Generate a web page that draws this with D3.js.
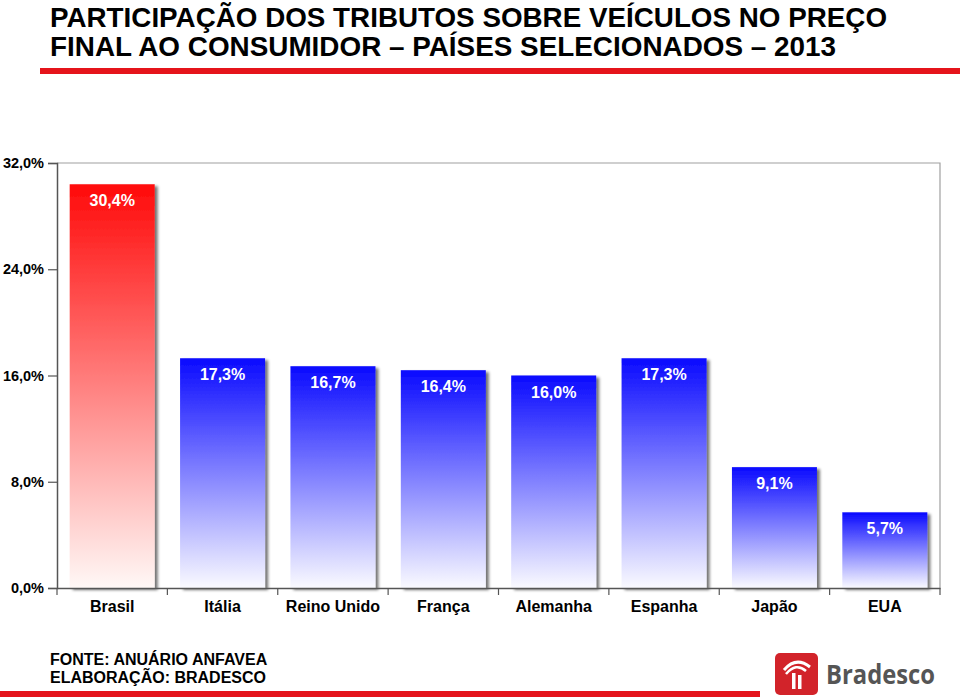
<!DOCTYPE html>
<html><head><meta charset="utf-8">
<script src="https://cdn.jsdelivr.net/npm/d3@7/dist/d3.min.js"></script>
<style>body{margin:0;background:#fff}svg{display:block}</style>
</head><body>
<script>
const categories = ["Brasil","Itália","Reino Unido","França","Alemanha","Espanha","Japão","EUA"];
const values = [30.4,17.3,16.7,16.4,16.0,17.3,9.1,5.7];
const yTicks = [0,8,16,24,32];
const titleLines = ["PARTICIPAÇÃO DOS TRIBUTOS SOBRE VEÍCULOS NO PREÇO","FINAL AO CONSUMIDOR – PAÍSES SELECIONADOS – 2013"];
const footer = ["FONTE: ANUÁRIO ANFAVEA","ELABORAÇÃO: BRADESCO"];

const W=960,H=697;
const svg=d3.select("body").append("svg").attr("width",W).attr("height",H);
const defs=svg.append("defs");
const gr=defs.append("linearGradient").attr("id","gRed").attr("x1",0).attr("y1",0).attr("x2",0).attr("y2",1);
gr.append("stop").attr("offset","0%").attr("stop-color","#ff0a0a");
gr.append("stop").attr("offset","100%").attr("stop-color","#fff8f6");
const gb=defs.append("linearGradient").attr("id","gBlue").attr("x1",0).attr("y1",0).attr("x2",0).attr("y2",1);
gb.append("stop").attr("offset","0%").attr("stop-color","#0a0aff");
gb.append("stop").attr("offset","100%").attr("stop-color","#fafaff");
const f=defs.append("filter").attr("id","sh").attr("x","-10%").attr("y","-10%").attr("width","130%").attr("height","130%");
f.append("feGaussianBlur").attr("in","SourceAlpha").attr("stdDeviation",1.5).attr("result","b");
f.append("feOffset").attr("in","b").attr("dx",3).attr("dy",2).attr("result","o");
f.append("feComponentTransfer").attr("in","o").attr("result","o2").append("feFuncA").attr("type","linear").attr("slope",0.55);
const fm=f.append("feMerge");fm.append("feMergeNode").attr("in","o2");fm.append("feMergeNode").attr("in","SourceGraphic");

// Title
const narrow="'Liberation Sans Narrow','Arial Narrow','Liberation Sans',Arial,sans-serif";
svg.selectAll("text.title").data(titleLines).join("text").attr("class","title")
 .attr("x",50).attr("y",(d,i)=>27+i*29).attr("font-family",narrow).attr("font-weight","bold")
 .attr("font-size",28).attr("fill","#000").attr("textLength",(d,i)=>i==0?837:786).attr("lengthAdjust","spacingAndGlyphs").text(d=>d);
svg.append("rect").attr("x",40).attr("y",68).attr("width",920).attr("height",6).attr("fill","#e5141b");

const m={l:57,r:940,t:163,b:588};
const x=d3.scaleBand().domain(categories).range([m.l,m.r]).paddingInner(0.23).paddingOuter(0.115);
const y=d3.scaleLinear().domain([0,32]).range([m.b,m.t]);

// frame
svg.append("path").attr("d",`M${m.l},${m.t}H${m.r}V${m.b}`).attr("fill","none").attr("stroke","#a0a0a0").attr("stroke-width",1.2);

// bars
svg.selectAll("rect.bar").data(values).join("rect").attr("class","bar")
 .attr("x",(d,i)=>x(categories[i])).attr("width",x.bandwidth())
 .attr("y",d=>y(d)).attr("height",d=>y(0)-y(d))
 .attr("fill",(d,i)=>i==0?"url(#gRed)":"url(#gBlue)").attr("filter","url(#sh)");

svg.selectAll("text.val").data(values).join("text").attr("class","val")
 .attr("x",(d,i)=>x(categories[i])+x.bandwidth()/2).attr("y",d=>y(d)+22)
 .attr("text-anchor","middle").attr("font-family","Liberation Sans,Arial,sans-serif").attr("font-weight","bold")
 .attr("font-size",16).attr("fill","#fff").text(d=>d.toFixed(1).replace(".",",")+"%");

// y axis
const ya=svg.append("g").attr("transform",`translate(${m.l},0)`)
 .call(d3.axisLeft(y).tickValues(yTicks).tickSize(9).tickPadding(4).tickFormat(d=>d.toFixed(1).replace(".",",")+"%"));
ya.select(".domain").attr("stroke","#555").attr("stroke-width",1.5);
ya.selectAll(".tick line").attr("stroke","#555").attr("stroke-width",1.2);
ya.selectAll("text").attr("font-family","Liberation Sans,Arial,sans-serif").attr("font-weight","bold").attr("font-size",14.5).attr("fill","#000");

// x axis
const xa=svg.append("g").attr("transform",`translate(0,${m.b})`).call(d3.axisBottom(x).tickSize(0).tickPadding(13));
xa.select(".domain").attr("stroke","#555").attr("stroke-width",1.5);
xa.selectAll("text").attr("font-family","Liberation Sans,Arial,sans-serif").attr("font-weight","bold").attr("font-size",16).attr("fill","#000");
const step=x.step();
svg.append("g").selectAll("line").data(d3.range(categories.length+1)).join("line")
 .attr("x1",i=>m.l+i*step).attr("x2",i=>m.l+i*step).attr("y1",m.b).attr("y2",m.b+7)
 .attr("stroke","#555").attr("stroke-width",1.2);

// footer
svg.selectAll("text.foot").data(footer).join("text").attr("class","foot")
 .attr("x",50).attr("y",(d,i)=>665+i*18).attr("font-family","Liberation Sans,Arial,sans-serif")
 .attr("font-weight","bold").attr("font-size",16).attr("fill","#000").text(d=>d);
svg.append("rect").attr("x",0).attr("y",691).attr("width",760).attr("height",6).attr("fill","#e5141b");

// logo
const lg=svg.append("g").attr("transform","translate(775,653)");
lg.append("rect").attr("width",43).attr("height",42).attr("rx",5).attr("fill","#d2232a");
lg.append("path").attr("d","M9,17 Q21,3 35,14").attr("fill","none").attr("stroke","#fff").attr("stroke-width",3);
lg.append("path").attr("d","M11,21 Q21,9 31,18").attr("fill","none").attr("stroke","#fff").attr("stroke-width",2.5);
lg.append("rect").attr("x",17).attr("y",20).attr("width",3.5).attr("height",16).attr("fill","#fff");
lg.append("rect").attr("x",23).attr("y",22).attr("width",3.5).attr("height",14).attr("fill","#fff");
svg.append("text").attr("x",826).attr("y",684).attr("font-family","'Open Sans',sans-serif").attr("font-weight","bold")
 .attr("font-size",26).attr("fill","#555").attr("textLength",109).attr("lengthAdjust","spacingAndGlyphs").text("Bradesco");
</script>
</body></html>
